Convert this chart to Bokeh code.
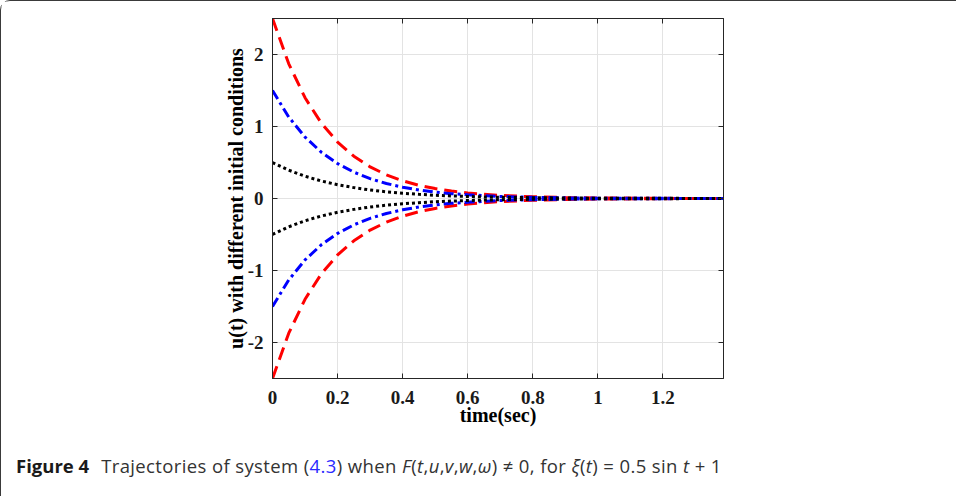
from bokeh.plotting import figure
from bokeh.models import Range1d, FixedTicker, LinearAxis, Column, Div
from bokeh.embed import file_html
from bokeh.resources import INLINE

# time samples (sec)
t = [0.0, 0.05, 0.10, 0.15, 0.20, 0.25, 0.30, 0.35, 0.40, 0.45, 0.50, 0.55,
     0.60, 0.70, 0.80, 0.90, 1.00, 1.20, 1.386]

# trajectories with different initial conditions
red_up = [2.5, 1.87, 1.40, 1.047, 0.784, 0.587, 0.439, 0.329, 0.246, 0.184, 0.138, 0.103,
          0.077, 0.043, 0.024, 0.014, 0.008, 0.002, 0.0]
red_dn = [-2.5, -1.87, -1.40, -1.047, -0.784, -0.587, -0.439, -0.329, -0.246, -0.184, -0.138, -0.103,
          -0.077, -0.043, -0.024, -0.014, -0.008, -0.002, 0.0]
blue_up = [1.5, 1.131, 0.853, 0.643, 0.485, 0.366, 0.276, 0.208, 0.157, 0.118, 0.089, 0.067,
           0.051, 0.029, 0.016, 0.009, 0.005, 0.002, 0.0]
blue_dn = [-1.5, -1.131, -0.853, -0.643, -0.485, -0.366, -0.276, -0.208, -0.157, -0.118, -0.089, -0.067,
           -0.051, -0.029, -0.016, -0.009, -0.005, -0.002, 0.0]
black_up = [0.5, 0.393, 0.309, 0.243, 0.191, 0.151, 0.118, 0.093, 0.073, 0.058, 0.045, 0.036,
            0.028, 0.017, 0.011, 0.007, 0.004, 0.002, 0.001]
black_dn = [-0.5, -0.393, -0.309, -0.243, -0.191, -0.151, -0.118, -0.093, -0.073, -0.058, -0.045, -0.036,
            -0.028, -0.017, -0.011, -0.007, -0.004, -0.002, -0.001]

x_ticks = [0, 0.2, 0.4, 0.6, 0.8, 1.0, 1.2]
x_tick_labels = ["0", "0.2", "0.4", "0.6", "0.8", "1", "1.2"]
y_ticks = [-2, -1, 0, 1, 2]
y_tick_labels = ["-2", "-1", "0", "1", "2"]

SERIF = "Liberation Serif"
W = 954

p = figure(width=W, height=435, output_backend="svg", toolbar_location=None,
           x_range=Range1d(0, 1.386), y_range=Range1d(-2.5, 2.5),
           min_border_left=271, min_border_right=W - 271 - 451,
           min_border_top=17, min_border_bottom=58,
           background_fill_color="white", border_fill_color="white")
p.outline_line_color = "#262626"
p.outline_line_width = 1

p.xgrid.ticker = FixedTicker(ticks=x_ticks)
p.ygrid.ticker = FixedTicker(ticks=y_ticks)
p.xgrid.grid_line_color = "#e3e3e3"
p.ygrid.grid_line_color = "#e3e3e3"

xa = p.xaxis[0]
ya = p.yaxis[0]
xa.ticker = FixedTicker(ticks=x_ticks)
ya.ticker = FixedTicker(ticks=y_ticks)
xa.major_label_overrides = {v: s for v, s in zip(x_ticks, x_tick_labels)}
ya.major_label_overrides = {v: s for v, s in zip(y_ticks, y_tick_labels)}
for ax in (xa, ya):
    ax.major_label_text_font = SERIF
    ax.major_label_text_font_style = "bold"
    ax.major_label_text_font_size = "19px"
    ax.major_label_text_color = "#1a1a1a"
    ax.axis_label_text_font = SERIF
    ax.axis_label_text_font_style = "bold"
    ax.axis_label_text_font_size = "20px"
    ax.axis_label_text_color = "black"
    ax.axis_line_color = "#262626"
    ax.major_tick_line_color = "#262626"
    ax.major_tick_in = 5
    ax.major_tick_out = 0
    ax.minor_tick_line_color = None
xa.axis_label = "time(sec)"
ya.axis_label = "u(t) with different initial conditions"
xa.major_label_standoff = 12
ya.major_label_standoff = 9
xa.axis_label_standoff = -3
ya.axis_label_standoff = -2

# mirrored box ticks on top and right (no labels)
top = LinearAxis(ticker=FixedTicker(ticks=x_ticks), major_label_text_color=None,
                 major_tick_in=5, major_tick_out=0, minor_tick_line_color=None,
                 axis_line_color="#262626", major_tick_line_color="#262626")
right = LinearAxis(ticker=FixedTicker(ticks=y_ticks), major_label_text_color=None,
                   major_tick_in=5, major_tick_out=0, minor_tick_line_color=None,
                   axis_line_color="#262626", major_tick_line_color="#262626")
p.add_layout(top, "above")
p.add_layout(right, "right")

p.line(t, red_up, line_color="#ff0000", line_width=3, line_dash="13 7")
p.line(t, red_dn, line_color="#ff0000", line_width=3, line_dash="13 7")
p.line(t, blue_up, line_color="#0000ff", line_width=3, line_dash="10 4 3 4")
p.line(t, blue_dn, line_color="#0000ff", line_width=3, line_dash="10 4 3 4")
p.line(t, black_up, line_color="#000000", line_width=3, line_dash="3 3")
p.line(t, black_dn, line_color="#000000", line_width=3, line_dash="3 3")

# caption
caption_html = (
    '<div style="padding:13px 0 0 10px; font-family:\'Open Sans\'; font-size:18.5px; '
    'letter-spacing:0.38px; color:#333333; white-space:nowrap; line-height:24px;">'
    '<span style="font-weight:700; color:#1a1a1a; letter-spacing:0;">Figure 4</span>'
    '<span style="margin-left:12px;">Trajectories of system (</span>'
    '<span style="color:#2a2aff;">4.3</span>'
    '<span>) when <i>F</i>(<i>t</i>,<i>u</i>,<i>v</i>,<i>w</i>,<i>\u03c9</i>) \u2260 0, for '
    '<i>\u03be</i>(<i>t</i>) = 0.5 sin <i>t</i> + 1</span>'
    '</div>'
)
cap = Div(text=caption_html, width=W, height=59)

layout = Column(children=[p, cap], spacing=0,
                styles={"border": "1px solid #3a3a3a", "border-radius": "10px",
                        "background-color": "white"})

open("out.html", "w").write(file_html(layout, INLINE))
